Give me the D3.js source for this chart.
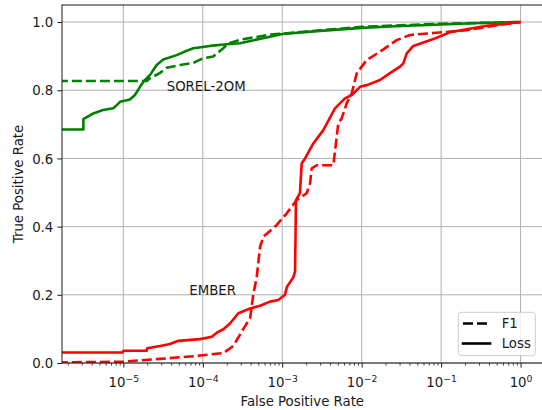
<!DOCTYPE html>
<html>
<head>
<meta charset="utf-8">
<script src="https://cdn.jsdelivr.net/npm/d3@7"></script>
<style>
  html, body { margin: 0; padding: 0; background: #fff; }
  svg { display: block; }
  text { font-family: "DejaVu Sans", sans-serif; fill: #1a1a1a; }
</style>
</head>
<body>
<div id="chart"></div>
<script>
// ---------------- data ----------------
const sorelLossFpr = [1e-6, 3.14e-6, 3.14e-6, 4.19e-6, 5.55e-6, 7.48e-6, 8.33e-6, 9.09e-6, 1.21e-5, 1.40e-5, 1.62e-5, 1.79e-5, 2.17e-5, 2.63e-5, 3.18e-5, 4.70e-5, 6.28e-5, 7.60e-5, 1.23e-4, 2.00e-4, 2.94e-4, 7.0e-4, 1e-3, 3e-3, 1e-2, 2.27e-2, 0.1, 0.31, 1];
const sorelLossTpr = [0.685, 0.685, 0.715, 0.732, 0.742, 0.747, 0.757, 0.766, 0.773, 0.786, 0.81, 0.825, 0.845, 0.874, 0.89, 0.903, 0.916, 0.923, 0.93, 0.935, 0.938, 0.957, 0.965, 0.974, 0.983, 0.987, 0.993, 0.997, 1.0];

const sorelF1Fpr = [1e-6, 1.97e-5, 2.17e-5, 2.90e-5, 3.52e-5, 5.18e-5, 7.60e-5, 1.01e-4, 1.35e-4, 1.75e-4, 2.08e-4, 2.94e-4, 7.0e-4, 1e-3, 1e-2, 0.1, 1];
const sorelF1Tpr = [0.827, 0.827, 0.835, 0.851, 0.866, 0.874, 0.88, 0.894, 0.899, 0.92, 0.937, 0.948, 0.963, 0.966, 0.986, 0.995, 1.0];

const emberLossFpr = [1e-6, 9.8e-6, 1e-5, 1.97e-5, 2.0e-5, 2.90e-5, 3.87e-5, 4.92e-5, 9.22e-5, 1.30e-4, 1.50e-4, 1.82e-4, 2.20e-4, 2.80e-4, 3.94e-4, 5.26e-4, 7.01e-4, 8.93e-4, 1.08e-3, 1.15e-3, 1.37e-3, 1.45e-3, 1.49e-3, 1.67e-3, 1.76e-3, 1.94e-3, 2.46e-3, 3.29e-3, 4.61e-3, 6.16e-3, 7.50e-3, 9.53e-3, 1.16e-2, 1.70e-2, 2.27e-2, 3.04e-2, 3.34e-2, 3.69e-2, 4.47e-2, 7.98e-2, 0.129, 0.21, 0.375, 1];
const emberLossTpr = [0.031, 0.031, 0.036, 0.036, 0.043, 0.05, 0.056, 0.065, 0.07, 0.077, 0.089, 0.099, 0.116, 0.146, 0.16, 0.168, 0.18, 0.185, 0.2, 0.224, 0.25, 0.268, 0.478, 0.498, 0.586, 0.6, 0.644, 0.683, 0.747, 0.776, 0.786, 0.81, 0.815, 0.83, 0.85, 0.869, 0.879, 0.908, 0.93, 0.95, 0.97, 0.979, 0.989, 1.0];

const emberF1Fpr = [1e-6, 1e-5, 2.90e-5, 7.60e-5, 1.82e-4, 2.42e-4, 3.24e-4, 3.94e-4, 4.32e-4, 4.78e-4, 5.26e-4, 5.78e-4, 8.53e-4, 1.14e-3, 1.52e-3, 2.03e-3, 2.24e-3, 2.35e-3, 2.71e-3, 4.40e-3, 5.08e-3, 5.61e-3, 6.49e-3, 7.50e-3, 8.67e-3, 1.16e-2, 1.70e-2, 2.76e-2, 4.06e-2, 7.98e-2, 0.21, 0.375, 1];
const emberF1Tpr = [0.001, 0.004, 0.012, 0.02, 0.029, 0.05, 0.1, 0.131, 0.2, 0.253, 0.341, 0.37, 0.405, 0.439, 0.478, 0.498, 0.527, 0.571, 0.58, 0.58, 0.703, 0.718, 0.762, 0.791, 0.85, 0.889, 0.913, 0.947, 0.962, 0.968, 0.976, 0.986, 1.0];

const xTickExponents = [-5, -4, -3, -2, -1, 0];
const yTickValues = [0, 0.2, 0.4, 0.6, 0.8, 1.0];
const yTickLabels = ["0.0", "0.2", "0.4", "0.6", "0.8", "1.0"];
const legendLabels = ["F1", "Loss"];
const datasetLabels = ["SOREL-2OM", "EMBER"];
const xAxisTitle = "False Positive Rate";
const yAxisTitle = "True Positive Rate";

// ---------------- layout ----------------
const W = 542, H = 410;
const L = 62, R = 542.5, T = 5, B = 363;
const FS = 13.3;
const green = "#008000", red = "#ff0000";

const x = d3.scaleLog().domain([Math.pow(10, -5.772), Math.pow(10, 0.276)]).range([L, R]);
const y = d3.scaleLinear().domain([0, 1.05]).range([B, T]);

const svg = d3.select("#chart").append("svg").attr("width", W).attr("height", H);

svg.append("defs").append("clipPath").attr("id", "plotclip")
  .append("rect").attr("x", L).attr("y", T).attr("width", R - L).attr("height", B - T);

// grid
const majorX = xTickExponents.map(e => Math.pow(10, e));
const grid = svg.append("g");
grid.selectAll("line.gx").data(majorX).join("line")
  .attr("x1", d => x(d)).attr("x2", d => x(d)).attr("y1", T).attr("y2", B)
  .attr("stroke", "#b0b0b0").attr("stroke-width", 1);
grid.selectAll("line.gy").data(yTickValues).join("line")
  .attr("y1", d => y(d)).attr("y2", d => y(d)).attr("x1", L).attr("x2", R)
  .attr("stroke", "#b0b0b0").attr("stroke-width", 1);

// minor ticks
const minorX = [];
for (let e = -6; e <= 0; e++) for (let m = 2; m <= 9; m++) {
  const v = m * Math.pow(10, e);
  if (v > x.domain()[0] && v < x.domain()[1]) minorX.push(v);
}

// x axis
const xAxisMinor = d3.axisBottom(x).tickValues(minorX).tickSize(2.6).tickFormat("");
const gMinor = svg.append("g").attr("transform", `translate(0,${B})`).call(xAxisMinor);
gMinor.select(".domain").remove();
gMinor.selectAll("line").attr("stroke", "#1a1a1a").attr("stroke-width", 0.8);

const xAxis = d3.axisBottom(x).tickValues(majorX).tickSize(4.6).tickFormat("");
const gx = svg.append("g").attr("transform", `translate(0,${B})`).call(xAxis);
gx.select(".domain").remove();
gx.selectAll("line").attr("stroke", "#1a1a1a").attr("stroke-width", 1);
gx.selectAll(".tick").each(function(d, i) {
  const t = d3.select(this).append("text")
    .attr("y", 23.5).attr("text-anchor", "middle")
    .style("font-size", FS + "px").attr("fill", "#1a1a1a");
  t.append("tspan").text("10");
  const e = xTickExponents[i];
  t.append("tspan").attr("dy", -4.8).style("font-size", (FS * 0.7) + "px")
    .text(e < 0 ? "\u2212" + Math.abs(e) : String(e));
});

// y axis
const yAxis = d3.axisLeft(y).tickValues(yTickValues).tickSize(4.6)
  .tickFormat((d, i) => yTickLabels[i]);
const gy = svg.append("g").attr("transform", `translate(${L},0)`).call(yAxis);
gy.select(".domain").remove();
gy.selectAll("line").attr("stroke", "#1a1a1a").attr("stroke-width", 1);
gy.selectAll("text").attr("x", -8.7).attr("dy", "0.35em")
  .style("font-size", FS + "px").style("font-family", "DejaVu Sans").attr("fill", "#1a1a1a");

// curves
const line = d3.line().x(d => x(d[0])).y(d => y(d[1]));
const zip = (a, b) => a.map((v, i) => [v, b[i]]);
const curves = svg.append("g").attr("clip-path", "url(#plotclip)");
const series = [
  { fpr: sorelF1Fpr, tpr: sorelF1Tpr, color: green, dash: "10,4" },
  { fpr: sorelLossFpr, tpr: sorelLossTpr, color: green, dash: null },
  { fpr: emberF1Fpr, tpr: emberF1Tpr, color: red, dash: "10,4" },
  { fpr: emberLossFpr, tpr: emberLossTpr, color: red, dash: null }
];
series.forEach(s => {
  curves.append("path").datum(zip(s.fpr, s.tpr))
    .attr("d", line).attr("fill", "none")
    .attr("stroke", s.color).attr("stroke-width", 2.6)
    .attr("stroke-linejoin", "round")
    .attr("stroke-dasharray", s.dash);
});

// spines
svg.append("rect").attr("x", L).attr("y", T).attr("width", R - L).attr("height", B - T)
  .attr("fill", "none").attr("stroke", "#1a1a1a").attr("stroke-width", 1);

// dataset labels
svg.append("text").attr("x", 166.7).attr("y", 90.7).style("font-size", FS + "px").text(datasetLabels[0]);
svg.append("text").attr("x", 189.3).attr("y", 295).style("font-size", FS + "px").text(datasetLabels[1]);

// axis titles
svg.append("text").attr("x", (L + R) / 2).attr("y", 406).attr("text-anchor", "middle")
  .style("font-size", FS + "px").text(xAxisTitle);
svg.append("text").attr("transform", `translate(22.5,${(T + B) / 2}) rotate(-90)`)
  .attr("text-anchor", "middle").style("font-size", FS + "px").text(yAxisTitle);

// legend
const lg = svg.append("g");
lg.append("rect").attr("x", 458.3).attr("y", 312.3).attr("width", 77).attr("height", 43.4)
  .attr("rx", 3).attr("fill", "#fff").attr("fill-opacity", 0.8)
  .attr("stroke", "#cccccc").attr("stroke-width", 1);
const legendDash = ["10,4", null];
const legendY = [323.5, 343.5];
legendLabels.forEach((lab, i) => {
  lg.append("line").attr("x1", 463).attr("x2", 490).attr("y1", legendY[i]).attr("y2", legendY[i])
    .attr("stroke", "#000").attr("stroke-width", 2.6)
    .attr("stroke-dasharray", legendDash[i])
    .attr("stroke-linecap", legendDash[i] ? "butt" : "square");
  lg.append("text").attr("x", 501.7).attr("y", legendY[i] + 4.6)
    .style("font-size", FS + "px").text(lab);
});
</script>
</body>
</html>
